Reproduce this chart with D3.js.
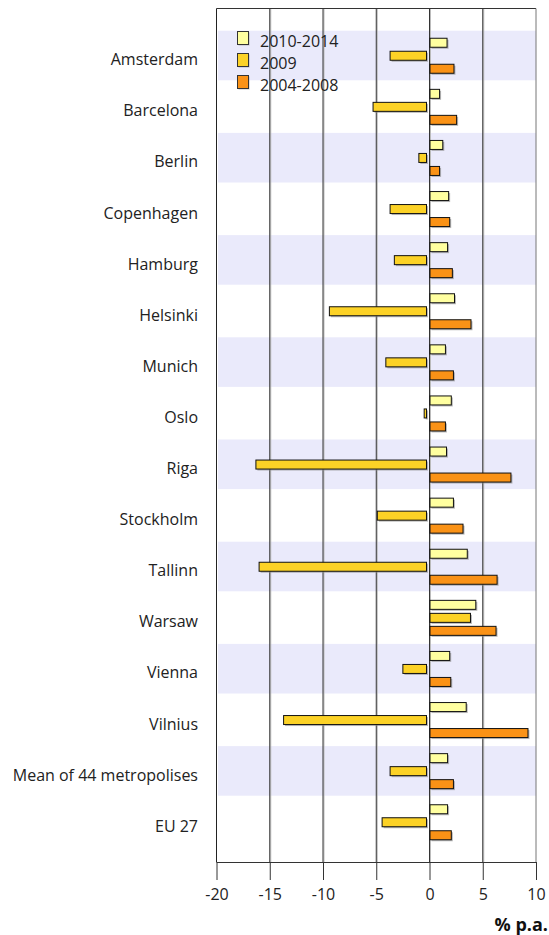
<!DOCTYPE html>
<html><head><meta charset="utf-8">
<script src="https://cdn.jsdelivr.net/npm/d3@7"></script>
<style>html,body{margin:0;padding:0;background:#fff;}svg{display:block;}</style>
</head><body>
<script>
const categories = ["Amsterdam","Barcelona","Berlin","Copenhagen","Hamburg","Helsinki","Munich","Oslo","Riga","Stockholm","Tallinn","Warsaw","Vienna","Vilnius","Mean of 44 metropolises","EU 27"];
const seriesNames = ["2010-2014","2009","2004-2008"];
const s2010_2014 = [1.6, 0.9, 1.2, 1.75, 1.65, 2.3, 1.45, 2.0, 1.55, 2.2, 3.5, 4.3, 1.85, 3.4, 1.65, 1.65];
const s2009 = [-3.7, -5.3, -1.0, -3.7, -3.3, -9.4, -4.1, -0.5, -16.3, -4.9, -16.0, 3.8, -2.5, -13.7, -3.7, -4.45];
const s2004_2008 = [2.25, 2.5, 0.9, 1.85, 2.1, 3.85, 2.2, 1.45, 7.6, 3.1, 6.3, 6.2, 1.95, 9.2, 2.2, 2.0];
const xTicks = [-20, -15, -10, -5, 0, 5, 10];
const xLabel = "% p.a.";
const colors = ["#FFFFA0", "#FCD226", "#FA9216"];

const W = 549, H = 935;
const L = 216.5, R = 536, T = 8.5, B = 862;
const font = "'Open Sans', 'Noto Sans', sans-serif";
const svg = d3.select("body").append("svg").attr("width", W).attr("height", H);

const x = d3.scaleLinear().domain([-20, 10]).range([L, R]);
const y = d3.scaleBand().domain(categories).range([30.7, 848.3]);
const sub = d3.scaleBand().domain(seriesNames).range([-19.5, 19.5]);

const seriesData = [s2010_2014, s2009, s2004_2008];

// shaded bands
svg.append("g").selectAll("rect").data(categories.filter((d, i) => i % 2 === 0)).join("rect")
  .attr("x", L + 1.5).attr("width", R - L - 1.5)
  .attr("y", d => y(d)).attr("height", y.bandwidth() - 1.5)
  .attr("fill", "#EAEAFB");

// gridlines
const grid = svg.append("g");
xTicks.slice(1, -1).forEach(t => {
  grid.append("line").attr("x1", x(t) + 1).attr("x2", x(t) + 1).attr("y1", T).attr("y2", B)
    .attr("stroke", "#bbb").attr("stroke-width", 1);
  grid.append("line").attr("x1", x(t)).attr("x2", x(t)).attr("y1", T).attr("y2", B)
    .attr("stroke", "#333").attr("stroke-width", 1);
});

// bars
const barsG = svg.append("g");
categories.forEach((c, i) => {
  seriesData.forEach((arr, k) => {
    const v = arr[i];
    const cy = y(c) + y.bandwidth() / 2 + sub(seriesNames[k]);
    let bx, bw;
    if (v < 0) { bx = x(v); bw = x(0) - 3 - x(v); }
    else { bx = x(0) + 0.5; bw = x(v) - x(0); }
    const by = cy + 1.5, bh = 10;
    barsG.append("rect").attr("x", bx + 1.5).attr("y", by + 1.5).attr("width", bw).attr("height", bh - 1)
      .attr("fill", "#888").attr("opacity", 0.6);
    barsG.append("rect").attr("x", bx).attr("y", by).attr("width", bw).attr("height", bh - 1)
      .attr("fill", colors[k]).attr("stroke", "#111").attr("stroke-width", 1);
  });
});

// frame
svg.append("line").attr("x1", L).attr("x2", R).attr("y1", T).attr("y2", T).attr("stroke", "#333");
svg.append("line").attr("x1", R).attr("x2", R).attr("y1", T).attr("y2", B).attr("stroke", "#777");
svg.append("line").attr("x1", L).attr("x2", L).attr("y1", T).attr("y2", B).attr("stroke", "#222");

// x axis
const axis = svg.append("g").attr("transform", `translate(0,${B})`)
  .call(d3.axisBottom(x).tickValues(xTicks).tickSize(18).tickPadding(9).tickFormat(d3.format("d")));
axis.select(".domain").attr("stroke", "#333").attr("d", `M${L},0.5H${R}`);
axis.selectAll(".tick line").attr("stroke", "#333");
axis.selectAll(".tick text").attr("font-family", font).attr("font-size", 16).attr("fill", "#222")
  .text(d => String(d).replace("\u2212", "-"));

svg.append("text").attr("x", 548).attr("y", 931).attr("text-anchor", "end")
  .attr("font-family", font).attr("font-size", 18).attr("font-weight", "bold").attr("fill", "#111")
  .text(xLabel);

// category labels
svg.append("g").selectAll("text").data(categories).join("text")
  .attr("x", 198).attr("y", d => y(d) + y.bandwidth() / 2 + 9)
  .attr("text-anchor", "end").attr("font-family", font).attr("font-size", 16).attr("fill", "#222")
  .text(d => d);

// legend
const leg = svg.append("g");
seriesNames.forEach((n, k) => {
  const ly = 31 + k * 22;
  leg.append("rect").attr("x", 238.5).attr("y", ly + 1.5).attr("width", 11).attr("height", 13)
    .attr("fill", "#888").attr("opacity", 0.5);
  leg.append("rect").attr("x", 237.5).attr("y", ly + 0.5).attr("width", 11).attr("height", 13)
    .attr("fill", colors[k]).attr("stroke", "#333").attr("stroke-width", 1);
  leg.append("text").attr("x", 260).attr("y", ly + 16).attr("font-family", font).attr("font-size", 16)
    .attr("fill", "#222").text(n);
});
</script>
</body></html>
